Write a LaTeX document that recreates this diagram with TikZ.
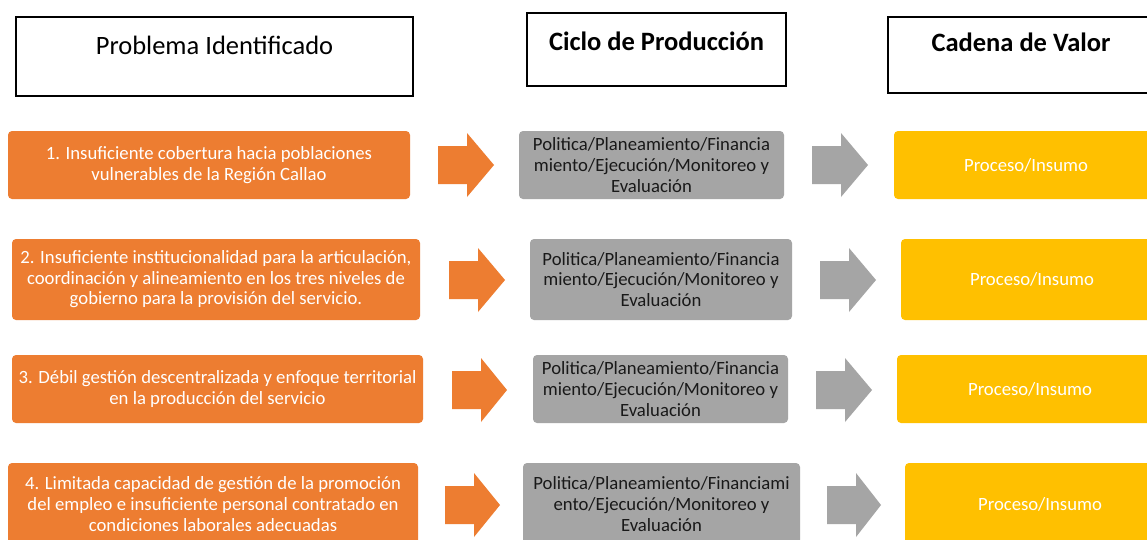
\documentclass[tikz,border=0pt]{standalone}
\usepackage{fontspec}
\setmainfont{Carlito}
\usetikzlibrary{calc}
\definecolor{orng}{HTML}{ED7D31}
\definecolor{gry}{HTML}{A5A5A5}
\definecolor{ylw}{HTML}{FFC000}
\newcommand\blockarrow[4]{%
  \fill[#1] (#2,#4-19) -- ({#2+29},#4-19) -- ({#2+29},#4-32) -- (#3,#4) -- ({#2+29},#4+32) -- ({#2+29},#4+19) -- (#2,#4+19) -- cycle;}
\tikzset{
  hdr/.style={draw=black, line width=1.3pt, rectangle, inner sep=0pt},
  htext/.style={font=\fontsize{26.5}{30}\selectfont, text=black, inner sep=0pt},
  hbold/.style={font=\fontsize{26.5}{30}\selectfont\bfseries, text=black, inner sep=0pt},
  rowtext/.style={font=\fontsize{18.7}{20.6}\selectfont, align=center, inner sep=0pt},
  obox/.style={fill=orng, rounded corners=4pt, text=white, rowtext},
  gbox/.style={fill=gry, rounded corners=4pt, text=black!90, rowtext},
  ybox/.style={fill=ylw, rounded corners=4pt, text=white, rowtext},
}
\begin{document}
\begin{tikzpicture}[x=1pt,y=-1pt]
\clip (0,0) rectangle (1147,539);
\fill[white] (0,0) rectangle (1147,539);
% headers
\node[hdr, minimum width=397pt, minimum height=79pt] (h1) at (214.5,56.5) {};
\node[htext] (h1t) at ($(h1.north)+(0,29)$) {Problema Identificado};
\node[hdr, minimum width=259pt, minimum height=73pt] (h2) at (656.5,49.5) {};
\node[hbold] (h2t) at ($(h2.north)+(0,29)$) {Ciclo de Producción};
\node[hdr, minimum width=280pt, minimum height=76pt] (h3) at (1028,55) {};
\node[hbold] (h3t) at ($(h3.north)+(-7,26)$) {Cadena de Valor};
% row 1
\node[obox, minimum width=402pt, minimum height=68pt] (o1) at (209,165) {1. Insuficiente cobertura hacia poblaciones\\vulnerables de la Región Callao};
\node[gbox, minimum width=265pt, minimum height=68pt] (g1) at (651.5,165) {Politica/Planeamiento/Financia\\miento/Ejecución/Monitoreo y\\Evaluación};
\node[ybox, minimum width=264pt, minimum height=68pt] (y1) at (1026,165) {Proceso/Insumo};
\blockarrow{orng}{438}{494}{165}
\blockarrow{gry}{812}{868}{165}
% row 2
\node[obox, minimum width=408pt, minimum height=81pt] (o2) at (216,279.5) {2. Insuficiente institucionalidad para la articulación,\\coordinación y alineamiento en los tres niveles de\\gobierno para la provisión del servicio.};
\node[gbox, minimum width=262pt, minimum height=81pt] (g2) at (661,279.5) {Politica/Planeamiento/Financia\\miento/Ejecución/Monitoreo y\\Evaluación};
\node[ybox, minimum width=262pt, minimum height=81pt] (y2) at (1032,279.5) {Proceso/Insumo};
\blockarrow{orng}{449}{505}{280}
\blockarrow{gry}{820}{876}{280}
% row 3
\node[obox, minimum width=411pt, minimum height=68pt] (o3) at (217.5,389) {3. Débil gestión descentralizada y enfoque territorial\\en la producción del servicio};
\node[gbox, minimum width=255pt, minimum height=68pt] (g3) at (660.5,389) {Politica/Planeamiento/Financia\\miento/Ejecución/Monitoreo y\\Evaluación};
\node[ybox, minimum width=266pt, minimum height=68pt] (y3) at (1030,389) {Proceso/Insumo};
\blockarrow{orng}{452}{507}{390}
\blockarrow{gry}{816}{872}{390}
% row 4
\node[obox, minimum width=410pt, minimum height=82pt] (o4) at (213,504) {4. Limitada capacidad de gestión de la promoción\\del empleo e insuficiente personal contratado en\\condiciones laborales adecuadas};
\node[gbox, minimum width=277pt, minimum height=82pt] (g4) at (661.5,504) {Politica/Planeamiento/Financiami\\ento/Ejecución/Monitoreo y\\Evaluación};
\node[ybox, minimum width=270pt, minimum height=82pt] (y4) at (1040,504) {Proceso/Insumo};
\blockarrow{orng}{445}{500}{505}
\blockarrow{gry}{827}{881}{505}
\end{tikzpicture}
\end{document}
